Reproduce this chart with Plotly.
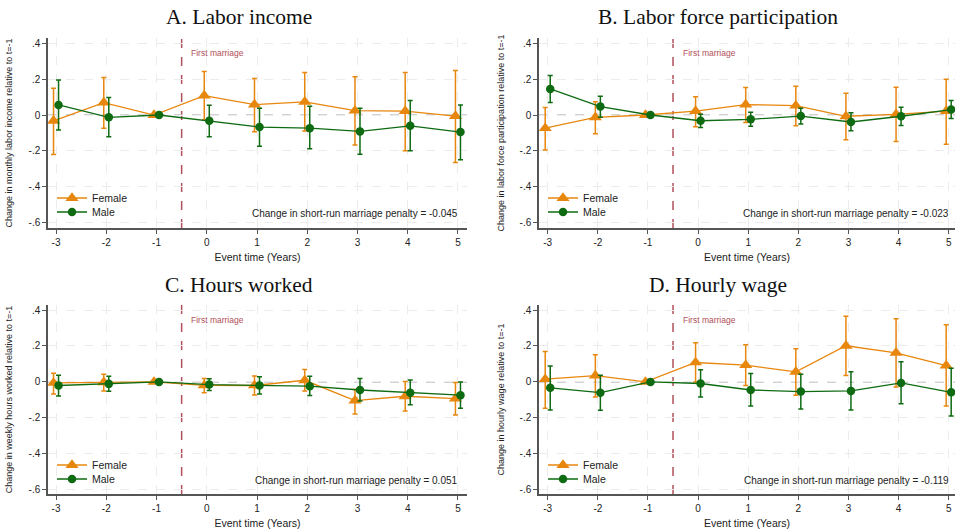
import plotly.graph_objects as go

# ---------------- data ----------------
event_time = [-3, -2, -1, 0, 1, 2, 3, 4, 5]
x_ticks = [-3, -2, -1, 0, 1, 2, 3, 4, 5]
y_tick_vals = [0.4, 0.2, 0, -0.2, -0.4, -0.6]
y_tick_text = [".4", ".2", "0", "-.2", "-.4", "-.6"]

panel_titles = ["A. Labor income", "B. Labor force participation",
                "C. Hours worked", "D. Hourly wage"]
y_titles = ["Change in monthly labor income relative to t=-1",
            "Change in labor force participation relative to t=-1",
            "Change in weekly hours worked relative to t=-1",
            "Change in hourly wage relative to t=-1"]
penalty_texts = ["Change in short-run marriage penalty = -0.045",
                 "Change in short-run marriage penalty = -0.023",
                 "Change in short-run marriage penalty = 0.051",
                 "Change in short-run marriage penalty = -0.119"]
marriage_label = "First marriage"
series_names = ["Female", "Male"]

# Panel A: labor income
a_female = [-0.032, 0.069, 0.0, 0.108, 0.058, 0.073, 0.024, 0.022, -0.006]
a_female_hi = [0.149, 0.208, 0.0, 0.242, 0.203, 0.236, 0.212, 0.236, 0.247]
a_female_lo = [-0.220, -0.074, 0.0, -0.026, -0.093, -0.089, -0.167, -0.199, -0.264]
a_male = [0.056, -0.013, 0.0, -0.032, -0.067, -0.073, -0.091, -0.060, -0.095]
a_male_hi = [0.195, 0.097, 0.0, 0.054, 0.037, 0.048, 0.037, 0.080, 0.056]
a_male_lo = [-0.084, -0.121, 0.0, -0.121, -0.173, -0.188, -0.218, -0.199, -0.249]

# Panel B: labor force participation
b_female = [-0.073, -0.013, 0.0, 0.022, 0.058, 0.052, -0.007, 0.004, 0.022]
b_female_hi = [0.042, 0.074, 0.0, 0.102, 0.153, 0.160, 0.121, 0.154, 0.199]
b_female_lo = [-0.194, -0.104, 0.0, -0.065, -0.041, -0.060, -0.138, -0.147, -0.162]
b_male = [0.145, 0.047, 0.0, -0.032, -0.024, -0.006, -0.039, -0.007, 0.030]
b_male_hi = [0.220, 0.104, 0.0, 0.004, 0.015, 0.037, 0.013, 0.043, 0.080]
b_male_lo = [0.069, -0.013, 0.0, -0.069, -0.063, -0.050, -0.087, -0.058, -0.019]

# Panel C: hours worked
c_female = [-0.006, -0.002, 0.0, -0.019, -0.020, 0.009, -0.104, -0.080, -0.093]
c_female_hi = [0.048, 0.043, 0.0, 0.019, 0.033, 0.069, -0.043, 0.002, -0.004]
c_female_lo = [-0.067, -0.050, 0.0, -0.061, -0.073, -0.050, -0.179, -0.162, -0.184]
c_male = [-0.020, -0.011, 0.0, -0.015, -0.020, -0.024, -0.045, -0.060, -0.074]
c_male_hi = [0.037, 0.032, 0.0, 0.017, 0.028, 0.032, 0.019, 0.011, 0.000]
c_male_lo = [-0.078, -0.052, 0.0, -0.048, -0.067, -0.076, -0.106, -0.127, -0.147]

# Panel D: hourly wage
d_female = [0.015, 0.035, 0.0, 0.108, 0.093, 0.056, 0.201, 0.162, 0.091]
d_female_hi = [0.169, 0.151, 0.0, 0.218, 0.207, 0.184, 0.366, 0.352, 0.318]
d_female_lo = [-0.147, -0.084, 0.0, 0.000, -0.020, -0.074, 0.035, -0.028, -0.134]
d_male = [-0.033, -0.060, 0.0, -0.009, -0.045, -0.054, -0.050, -0.006, -0.058]
d_male_hi = [0.089, 0.037, 0.0, 0.067, 0.047, 0.043, 0.056, 0.112, 0.076]
d_male_lo = [-0.156, -0.158, 0.0, -0.084, -0.134, -0.151, -0.156, -0.121, -0.190]

panels = [
    (a_female, a_female_hi, a_female_lo, a_male, a_male_hi, a_male_lo),
    (b_female, b_female_hi, b_female_lo, b_male, b_male_hi, b_male_lo),
    (c_female, c_female_hi, c_female_lo, c_male, c_male_hi, c_male_lo),
    (d_female, d_female_hi, d_female_lo, d_male, d_male_hi, d_male_lo),
]

# ---------------- styling ----------------
ORANGE = "#E8870E"
GREEN = "#0E6B12"
MARR = "#B0505A"
SANS = "Liberation Sans, Arial, sans-serif"
NARROW = "Liberation Sans Narrow, Arial Narrow, Liberation Sans, sans-serif"
SERIF = "Liberation Serif, Times New Roman, serif"
W, H = 955, 530

x_domains = [[48 / W, 467 / W], [539 / W, 1.0], [48 / W, 467 / W], [539 / W, 1.0]]
y_domains = [[1 - 228 / H, 1 - 38 / H], [1 - 228 / H, 1 - 38 / H],
             [1 - 494 / H, 1 - 305 / H], [1 - 494 / H, 1 - 305 / H]]
x_ranges = [[-3.16, 5.18], [-3.174, 5.126], [-3.16, 5.18], [-3.174, 5.126]]
y_ranges = [[-0.628, 0.428], [-0.628, 0.428], [-0.624, 0.428], [-0.624, 0.428]]
title_pos = [(239, 17), (718, 17), (239, 285), (718, 285)]
# (left x, female row y, male row y) in pixels
legend_pos = [(52, 198, 212), (543, 198, 212), (52, 465, 479), (543, 465, 479)]
y_title_standoff = [14, 13, 14, 13]
offset = 0.05

fig = go.Figure()
layout = dict(
    width=W, height=H, margin=dict(l=0, r=0, t=0, b=0),
    paper_bgcolor="white", plot_bgcolor="white", showlegend=True,
    annotations=[], shapes=[],
)

for i, (f, fhi, flo, m, mhi, mlo) in enumerate(panels):
    k = "" if i == 0 else str(i + 1)
    xa, ya = "x" + k, "y" + k
    leg_f = "legend" + ("" if i == 0 else str(2 * i + 1))
    leg_m = "legend" + str(2 * i + 2)
    fx = [t - offset for t in event_time]
    mx = [t + offset for t in event_time]
    fig.add_trace(go.Scatter(
        x=fx, y=f, mode="lines+markers", name=series_names[0],
        xaxis=xa, yaxis=ya, legend=leg_f,
        line=dict(color=ORANGE, width=1.3),
        marker=dict(symbol="triangle-up", size=11.5, color=ORANGE),
        error_y=dict(type="data", symmetric=False,
                     array=[h - v for h, v in zip(fhi, f)],
                     arrayminus=[v - l for v, l in zip(f, flo)],
                     color=ORANGE, thickness=1.5, width=2.5),
    ))
    fig.add_trace(go.Scatter(
        x=mx, y=m, mode="lines+markers", name=series_names[1],
        xaxis=xa, yaxis=ya, legend=leg_m,
        line=dict(color=GREEN, width=1.3),
        marker=dict(symbol="circle", size=8.5, color=GREEN),
        error_y=dict(type="data", symmetric=False,
                     array=[h - v for h, v in zip(mhi, m)],
                     arrayminus=[v - l for v, l in zip(m, mlo)],
                     color=GREEN, thickness=1.5, width=2.5),
    ))

    layout["xaxis" + k] = dict(
        domain=x_domains[i], range=x_ranges[i], anchor=ya,
        tickmode="array", tickvals=x_ticks, ticktext=[str(t) for t in x_ticks],
        ticks="outside", ticklen=4, tickcolor="#555", tickwidth=1,
        tickfont=dict(family=SANS, size=10, color="#222"),
        showline=True, linecolor="#555", linewidth=1.5,
        showgrid=True, gridcolor="#ececec", griddash="dash", gridwidth=1,
        zeroline=False,
        title=dict(text="Event time (Years)", standoff=7,
                   font=dict(family=SANS, size=10.5, color="#222")),
    )
    layout["yaxis" + k] = dict(
        domain=y_domains[i], range=y_ranges[i], anchor=xa,
        tickmode="array", tickvals=y_tick_vals, ticktext=y_tick_text,
        ticks="outside", ticklen=4, tickcolor="#555", tickwidth=1,
        tickfont=dict(family=SANS, size=10, color="#222"),
        showline=True, linecolor="#555", linewidth=1.5,
        showgrid=True, gridcolor="#ececec", griddash="dash", gridwidth=1,
        zeroline=False,
        title=dict(text=y_titles[i], standoff=y_title_standoff[i],
                   font=dict(family=NARROW, size=9, color="#222")),
    )
    for leg, row_y in ((leg_f, legend_pos[i][1]), (leg_m, legend_pos[i][2])):
        layout[leg] = dict(
            x=legend_pos[i][0] / W, y=1 - row_y / H,
            xanchor="left", yanchor="middle", bgcolor="rgba(0,0,0,0)",
            font=dict(family=SANS, size=10.5, color="#222"),
            tracegroupgap=0, itemwidth=30,
        )
    # reference lines
    layout["shapes"].append(dict(
        type="line", xref=xa, yref=ya, x0=x_ranges[i][0], x1=x_ranges[i][1],
        y0=0, y1=0, line=dict(color="#c4c4c4", width=1.5, dash="dash"), layer="below"))
    layout["shapes"].append(dict(
        type="line", xref=xa, yref=ya + " domain", x0=-0.5, x1=-0.5,
        y0=0, y1=1, line=dict(color=MARR, width=1.5, dash="dash"), layer="below"))
    # texts
    layout["annotations"].append(dict(
        text=marriage_label, xref=xa, yref=ya, x=-0.35, y=0.345,
        xanchor="left", yanchor="middle", showarrow=False,
        font=dict(family=SANS, size=8.5, color=MARR)))
    layout["annotations"].append(dict(
        text=penalty_texts[i], xref=xa, yref=ya, x=5.05, y=-0.55,
        xanchor="right", yanchor="middle", showarrow=False,
        font=dict(family=SANS, size=10, color="#222")))
    layout["annotations"].append(dict(
        text=panel_titles[i], xref="paper", yref="paper",
        x=title_pos[i][0] / W, y=1 - title_pos[i][1] / H,
        xanchor="center", yanchor="middle", showarrow=False,
        font=dict(family=SERIF, size=21.5, color="#111")))

fig.update_layout(**layout)
fig.write_html("out.html", config={"displayModeBar": False},
               post_script="document.body.style.margin='0';document.body.style.overflow='hidden';")
